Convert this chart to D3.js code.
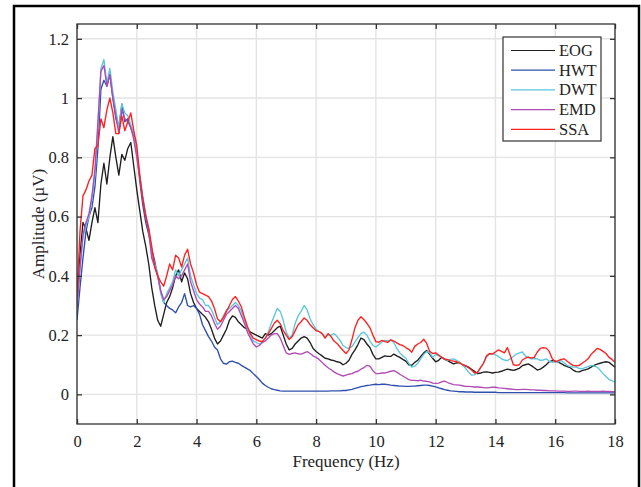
<!DOCTYPE html>
<html>
<head>
<meta charset="utf-8">
<script src="https://cdn.jsdelivr.net/npm/d3@7"></script>
<style>
  html, body { margin: 0; padding: 0; background: #fff; }
  svg { display: block; }
  text { font-family: "Liberation Serif", "Times New Roman", serif; }
</style>
</head>
<body>
<svg id="chart" width="641" height="487"></svg>
<script>
// Frequency bins (Hz), 0.1 Hz spacing from 0 to 18 Hz
const freq = d3.range(181).map(i => i / 10);

const seriesNames = ["EOG", "HWT", "DWT", "EMD", "SSA"];
const seriesColors = ["#1e1e1e", "#2f4fae", "#5cc6dc", "#b24ab4", "#ff1f1f"];

const xTicks = [0, 2, 4, 6, 8, 10, 12, 14, 16, 18];
const yTicks = [0, 0.2, 0.4, 0.6, 0.8, 1, 1.2];

// Amplitude spectra (µV), one value per frequency bin
const eog = [
  0.30,0.47,0.58,0.56,0.52,0.58,0.63,0.58,0.71,0.78,
  0.71,0.80,0.87,0.80,0.74,0.81,0.79,0.83,0.85,0.77,
  0.69,0.62,0.55,0.50,0.44,0.36,0.30,0.25,0.23,0.27,
  0.31,0.33,0.36,0.40,0.42,0.38,0.41,0.39,0.34,0.31,
  0.29,0.28,0.27,0.26,0.245,0.22,0.19,0.17,0.18,0.20,
  0.22,0.25,0.265,0.26,0.245,0.235,0.225,0.22,0.21,0.205,
  0.20,0.195,0.19,0.205,0.20,0.205,0.215,0.225,0.23,0.20,
  0.17,0.15,0.155,0.17,0.18,0.19,0.195,0.19,0.175,0.155,
  0.145,0.137,0.13,0.122,0.12,0.116,0.114,0.11,0.108,0.10,
  0.105,0.115,0.135,0.15,0.168,0.19,0.185,0.17,0.158,0.135,
  0.12,0.12,0.125,0.13,0.128,0.128,0.136,0.13,0.125,0.118,
  0.112,0.10,0.098,0.108,0.115,0.128,0.14,0.148,0.135,0.122,
  0.11,0.115,0.125,0.118,0.114,0.108,0.103,0.106,0.108,0.10,
  0.096,0.092,0.085,0.078,0.07,0.072,0.075,0.076,0.074,0.072,
  0.074,0.075,0.078,0.082,0.085,0.083,0.081,0.084,0.088,0.097,
  0.10,0.103,0.097,0.09,0.082,0.085,0.092,0.10,0.11,0.114,
  0.112,0.109,0.104,0.098,0.094,0.09,0.082,0.077,0.076,0.08,
  0.083,0.086,0.092,0.098,0.102,0.105,0.108,0.11,0.108,0.10,
  0.092
];

const hwt = [
  0.25,0.36,0.46,0.55,0.60,0.63,0.70,0.83,1.03,1.06,
  1.04,1.08,1.00,0.93,0.90,0.98,0.92,0.93,0.90,0.87,
  0.82,0.72,0.64,0.58,0.54,0.49,0.45,0.40,0.35,0.31,
  0.30,0.29,0.285,0.275,0.295,0.31,0.34,0.30,0.295,0.30,
  0.29,0.27,0.235,0.215,0.195,0.18,0.16,0.15,0.12,0.105,
  0.102,0.11,0.112,0.108,0.105,0.098,0.092,0.086,0.08,0.07,
  0.06,0.05,0.038,0.03,0.024,0.019,0.016,0.014,0.012,0.011,
  0.011,0.011,0.011,0.011,0.011,0.011,0.011,0.011,0.011,0.011,
  0.011,0.011,0.011,0.011,0.011,0.012,0.012,0.012,0.012,0.013,
  0.013,0.015,0.017,0.02,0.023,0.026,0.028,0.03,0.031,0.033,
  0.034,0.033,0.034,0.034,0.033,0.031,0.03,0.029,0.028,0.028,
  0.027,0.027,0.028,0.028,0.029,0.03,0.031,0.031,0.03,0.028,
  0.025,0.022,0.019,0.016,0.014,0.012,0.011,0.01,0.009,0.009,
  0.008,0.008,0.008,0.007,0.007,0.007,0.007,0.007,0.007,0.007,
  0.007,0.006,0.006,0.006,0.006,0.006,0.006,0.006,0.006,0.006,
  0.006,0.006,0.006,0.006,0.006,0.006,0.006,0.006,0.006,0.006,
  0.006,0.006,0.006,0.006,0.005,0.005,0.005,0.005,0.005,0.005,
  0.005,0.005,0.005,0.005,0.005,0.005,0.005,0.005,0.005,0.005,
  0.005
];

const dwt = [
  0.29,0.42,0.53,0.57,0.60,0.66,0.74,0.90,1.10,1.13,
  1.05,1.10,1.02,0.96,0.90,0.98,0.95,0.94,0.91,0.88,
  0.82,0.74,0.67,0.61,0.56,0.47,0.44,0.41,0.34,0.31,
  0.34,0.36,0.38,0.42,0.40,0.42,0.44,0.46,0.40,0.37,
  0.34,0.325,0.32,0.30,0.30,0.285,0.26,0.235,0.245,0.265,
  0.285,0.29,0.30,0.31,0.30,0.28,0.25,0.22,0.20,0.18,
  0.175,0.17,0.175,0.19,0.21,0.24,0.265,0.29,0.28,0.25,
  0.21,0.19,0.20,0.24,0.265,0.28,0.30,0.285,0.255,0.235,
  0.22,0.212,0.205,0.195,0.20,0.20,0.205,0.195,0.182,0.165,
  0.158,0.155,0.162,0.176,0.192,0.205,0.21,0.20,0.18,0.165,
  0.16,0.168,0.176,0.182,0.18,0.183,0.175,0.155,0.14,0.13,
  0.122,0.105,0.092,0.095,0.105,0.12,0.135,0.145,0.14,0.125,
  0.135,0.13,0.125,0.12,0.115,0.118,0.12,0.115,0.108,0.10,
  0.088,0.075,0.065,0.066,0.075,0.088,0.105,0.125,0.135,0.138,
  0.133,0.128,0.12,0.116,0.114,0.12,0.128,0.136,0.14,0.143,
  0.13,0.124,0.12,0.121,0.12,0.115,0.116,0.12,0.112,0.108,
  0.11,0.11,0.114,0.106,0.098,0.094,0.092,0.092,0.088,0.086,
  0.09,0.094,0.098,0.095,0.092,0.082,0.07,0.06,0.05,0.046,
  0.041
];

const emd = [
  0.29,0.43,0.54,0.58,0.61,0.67,0.76,0.92,1.09,1.11,
  1.04,1.08,1.00,0.94,0.88,0.96,0.93,0.92,0.90,0.86,
  0.80,0.73,0.66,0.60,0.55,0.46,0.43,0.40,0.35,0.32,
  0.33,0.35,0.37,0.40,0.39,0.40,0.42,0.44,0.38,0.35,
  0.32,0.305,0.295,0.28,0.28,0.265,0.24,0.22,0.23,0.25,
  0.27,0.28,0.29,0.30,0.29,0.265,0.24,0.21,0.19,0.17,
  0.16,0.165,0.175,0.18,0.19,0.20,0.205,0.205,0.19,0.165,
  0.14,0.135,0.138,0.14,0.137,0.136,0.14,0.144,0.138,0.13,
  0.125,0.118,0.108,0.098,0.09,0.083,0.076,0.07,0.066,0.062,
  0.065,0.068,0.07,0.075,0.078,0.085,0.09,0.098,0.095,0.08,
  0.07,0.07,0.072,0.072,0.075,0.078,0.08,0.075,0.068,0.062,
  0.056,0.05,0.047,0.047,0.046,0.048,0.045,0.044,0.042,0.038,
  0.037,0.038,0.042,0.045,0.04,0.036,0.033,0.032,0.031,0.029,
  0.027,0.027,0.026,0.025,0.025,0.024,0.023,0.022,0.023,0.024,
  0.024,0.022,0.021,0.02,0.019,0.018,0.017,0.016,0.016,0.017,
  0.017,0.016,0.015,0.015,0.014,0.014,0.013,0.013,0.012,0.012,
  0.012,0.011,0.011,0.011,0.01,0.01,0.011,0.011,0.01,0.01,
  0.01,0.011,0.01,0.01,0.01,0.01,0.011,0.01,0.01,0.009,
  0.009
];

const ssa = [
  0.33,0.55,0.67,0.69,0.72,0.74,0.83,0.84,0.93,0.90,
  0.96,1.00,0.95,0.88,0.88,0.94,0.89,0.92,0.95,0.89,
  0.84,0.74,0.66,0.60,0.56,0.50,0.43,0.40,0.38,0.365,
  0.40,0.44,0.42,0.47,0.46,0.43,0.47,0.49,0.44,0.41,
  0.37,0.345,0.34,0.335,0.33,0.315,0.29,0.255,0.245,0.26,
  0.28,0.30,0.32,0.33,0.315,0.295,0.26,0.23,0.205,0.19,
  0.185,0.18,0.178,0.19,0.205,0.222,0.24,0.25,0.238,0.215,
  0.20,0.185,0.195,0.215,0.235,0.245,0.258,0.25,0.235,0.225,
  0.215,0.212,0.205,0.19,0.205,0.195,0.18,0.172,0.16,0.148,
  0.138,0.15,0.185,0.225,0.25,0.262,0.252,0.24,0.225,0.20,
  0.178,0.176,0.182,0.178,0.176,0.184,0.18,0.174,0.168,0.165,
  0.158,0.152,0.142,0.162,0.17,0.175,0.186,0.172,0.145,0.138,
  0.14,0.133,0.125,0.12,0.117,0.114,0.112,0.11,0.106,0.10,
  0.096,0.09,0.082,0.072,0.074,0.09,0.105,0.13,0.138,0.136,
  0.143,0.15,0.145,0.14,0.158,0.13,0.10,0.098,0.10,0.116,
  0.122,0.126,0.122,0.125,0.143,0.155,0.158,0.156,0.145,0.12,
  0.11,0.114,0.118,0.12,0.112,0.104,0.098,0.096,0.098,0.105,
  0.112,0.12,0.135,0.145,0.155,0.152,0.145,0.138,0.125,0.118,
  0.108
];

const seriesValues = [eog, hwt, dwt, emd, ssa];

const svg = d3.select("#chart");
const W = 641, H = 487;
const margin = { left: 77, right: W - 615, top: 24, bottom: H - 424 };

svg.append("rect").attr("width", W).attr("height", H).attr("fill", "#fff");

// Outer figure frame
svg.append("rect")
  .attr("x", 14).attr("y", 6).attr("width", 625).attr("height", 520)
  .attr("fill", "none").attr("stroke", "#000").attr("stroke-width", 2.5);

const x = d3.scaleLinear().domain([0, 18]).range([margin.left, W - margin.right]);
const y = d3.scaleLinear().domain([-0.1, 1.25]).range([H - margin.bottom, margin.top]);

const x0 = x.range()[0], x1 = x.range()[1];
const yTop = y.range()[1], yBot = y.range()[0];

// Grid
const grid = svg.append("g").attr("stroke", "#e3e3e3").attr("stroke-width", 1.4);
xTicks.forEach(t => grid.append("line").attr("x1", x(t)).attr("x2", x(t)).attr("y1", yTop).attr("y2", yBot));
yTicks.forEach(t => grid.append("line").attr("x1", x0).attr("x2", x1).attr("y1", y(t)).attr("y2", y(t)));

// Clip for the data lines
svg.append("clipPath").attr("id", "plotClip")
  .append("rect").attr("x", x0).attr("y", yTop).attr("width", x1 - x0).attr("height", yBot - yTop);

const line = d3.line().x((d, i) => x(freq[i])).y(d => y(d));
const lines = svg.append("g").attr("clip-path", "url(#plotClip)");
seriesValues.forEach((vals, k) => {
  lines.append("path")
    .datum(vals)
    .attr("d", line)
    .attr("fill", "none")
    .attr("stroke", seriesColors[k])
    .attr("stroke-width", 1.35)
    .attr("stroke-linejoin", "round");
});

// Axes (box with inward ticks on all four sides)
const axisColor = "#333";
const tickFont = 16.5;
const xAxisB = d3.axisBottom(x).tickValues(xTicks).tickSizeInner(-5).tickSizeOuter(0).tickPadding(11).tickFormat(d3.format("d"));
const xAxisT = d3.axisTop(x).tickValues(xTicks).tickSizeInner(-5).tickSizeOuter(0).tickFormat("");
const yAxisL = d3.axisLeft(y).tickValues(yTicks).tickSizeInner(-5).tickSizeOuter(0).tickPadding(8).tickFormat(d => d === 0 || d === 1 ? String(d) : d3.format(".1f")(d));
const yAxisR = d3.axisRight(y).tickValues(yTicks).tickSizeInner(-5).tickSizeOuter(0).tickFormat("");

function styleAxis(g) {
  g.select(".domain").remove();
  g.selectAll(".tick line").attr("stroke", axisColor).attr("stroke-width", 1.3);
  g.selectAll(".tick text").attr("fill", "#222").attr("font-size", tickFont).attr("font-family", "Liberation Serif");
}
svg.append("g").attr("transform", `translate(0,${yBot})`).call(xAxisB).call(styleAxis);
svg.append("g").attr("transform", `translate(0,${yTop})`).call(xAxisT).call(styleAxis);
svg.append("g").attr("transform", `translate(${x0},0)`).call(yAxisL).call(styleAxis);
svg.append("g").attr("transform", `translate(${x1},0)`).call(yAxisR).call(styleAxis);

svg.append("rect")
  .attr("x", x0).attr("y", yTop).attr("width", x1 - x0).attr("height", yBot - yTop)
  .attr("fill", "none").attr("stroke", axisColor).attr("stroke-width", 1.3);

// Axis titles
svg.append("text")
  .attr("x", (x0 + x1) / 2).attr("y", 467)
  .attr("text-anchor", "middle").attr("font-size", 17).attr("fill", "#222")
  .text("Frequency (Hz)");
svg.append("text")
  .attr("transform", `translate(44,${(yTop + yBot) / 2}) rotate(-90)`)
  .attr("text-anchor", "middle").attr("font-size", 17).attr("fill", "#222")
  .text("Amplitude (\u00B5V)");

// Legend
const lg = svg.append("g");
lg.append("rect").attr("x", 503).attr("y", 37).attr("width", 98).attr("height", 104)
  .attr("fill", "#fff").attr("stroke", "#333").attr("stroke-width", 1.2);
seriesNames.forEach((name, k) => {
  const cy = 50.5 + k * 19.7;
  lg.append("line").attr("x1", 511).attr("x2", 555).attr("y1", cy).attr("y2", cy)
    .attr("stroke", seriesColors[k]).attr("stroke-width", 1.2);
  lg.append("text").attr("x", 559).attr("y", cy + 5.5)
    .attr("font-size", 16.5).attr("fill", "#222").text(name);
});
</script>
</body>
</html>
